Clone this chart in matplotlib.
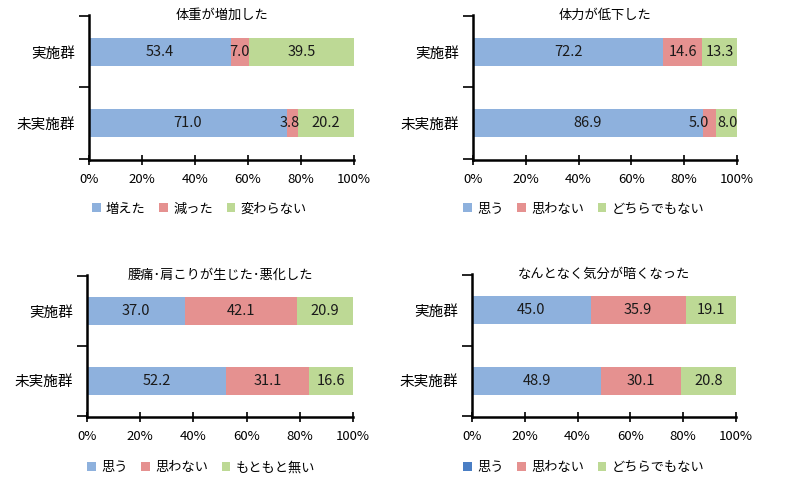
import matplotlib
matplotlib.use("Agg")
import matplotlib.pyplot as plt
import matplotlib.ticker as mtick
from matplotlib.patches import Patch
import numpy as np

plt.rcParams["font.family"] = ["Noto Sans CJK JP", "DejaVu Sans"]

groups = ["実施群", "未実施群"]

title1 = "体重が増加した"
legend1 = ["増えた", "減った", "変わらない"]
data1 = [[53.4, 7.0, 39.5], [71.0, 3.8, 20.2]]

title2 = "体力が低下した"
legend2 = ["思う", "思わない", "どちらでもない"]
data2 = [[72.2, 14.6, 13.3], [86.9, 5.0, 8.0]]

title3 = "腰痛･肩こりが生じた･悪化した"
legend3 = ["思う", "思わない", "もともと無い"]
data3 = [[37.0, 42.1, 20.9], [52.2, 31.1, 16.6]]

title4 = "なんとなく気分が暗くなった"
legend4 = ["思う", "思わない", "どちらでもない"]
data4 = [[45.0, 35.9, 19.1], [48.9, 30.1, 20.8]]

barColors = ["#8EB1DD", "#E59190", "#BDD995"]
textColor = "#1a1a1a"

W, H = 800, 482


def figRect(left, top, right, bottom):
  return [left / W, 1 - bottom / H, (right - left) / W, (bottom - top) / H]


def drawPanel(fig, rect, title, data, legendLabels, legendXY, legendColors=None, nudge=None):
  # nudge: {(row, col): px} horizontal shift of crowded value labels
  nudge = nudge or {}
  ax = fig.add_axes(rect)
  vals = np.array(data)
  shares = vals / vals.sum(axis=1, keepdims=True)
  y = np.arange(len(groups))
  left = np.zeros(len(groups))
  for j in range(vals.shape[1]):
    ax.barh(y, shares[:, j], left=left, height=0.4, color=barColors[j], linewidth=0)
    for i in range(len(groups)):
      dx = nudge.get((i, j), 0) * 0.72
      ax.annotate(f"{vals[i, j]:.1f}", (left[i] + shares[i, j] / 2, y[i]),
                  xytext=(dx, 0), textcoords="offset points",
                  ha="center", va="center", fontsize=10.5, color=textColor)
    left += shares[:, j]

  ax.set_xlim(0, 1)
  ax.set_ylim(1.52, -0.52)
  ax.set_yticks(y, labels=groups, fontsize=10.5)
  ax.set_yticks([-0.5, 0.5, 1.5], minor=True)
  ax.tick_params(axis="y", which="major", length=0, pad=10)
  ax.tick_params(axis="y", which="minor", length=7, width=1.2, direction="out")
  ax.xaxis.set_major_locator(mtick.MultipleLocator(0.2))
  ax.xaxis.set_major_formatter(mtick.FuncFormatter(lambda x, _: f"{x * 100:.0f}%"))
  ax.tick_params(axis="x", length=7, width=1.2, direction="inout", labelsize=9.5, pad=6)
  for s in ("top", "right"):
    ax.spines[s].set_visible(False)
  for s in ("left", "bottom"):
    ax.spines[s].set_linewidth(1.8)
    ax.spines[s].set_color("black")

  ax.text(0.5, 1.0, title, transform=ax.transAxes, ha="center", va="center",
          fontsize=9.5, color="black")

  colors = legendColors if legendColors else barColors
  handles = [Patch(facecolor=c, edgecolor="none") for c in colors]
  fig.legend(handles, legendLabels, loc="center left",
             bbox_to_anchor=(legendXY[0] / W, 1 - legendXY[1] / H),
             ncol=3, frameon=False, fontsize=9.5, handlelength=0.65, handleheight=0.65,
             handletextpad=0.4, columnspacing=1.05, borderpad=0, borderaxespad=0)
  return ax


fig = plt.figure(figsize=(8, 4.82), dpi=100)

drawPanel(fig, figRect(89, 15, 354, 160), title1, data1, legend1, (92, 209),
          nudge={(1, 1): -3})
drawPanel(fig, figRect(473, 15, 737, 160), title2, data2, legend2, (463, 209),
          nudge={(1, 1): -10, (1, 2): 1})
drawPanel(fig, figRect(87, 275, 353, 417), title3, data3, legend3, (87, 468))
drawPanel(fig, figRect(472, 274, 736, 417), title4, data4, legend4, (463, 468),
          legendColors=["#4A7EC4", barColors[1], barColors[2]])

fig.savefig("out.png", dpi=100)
